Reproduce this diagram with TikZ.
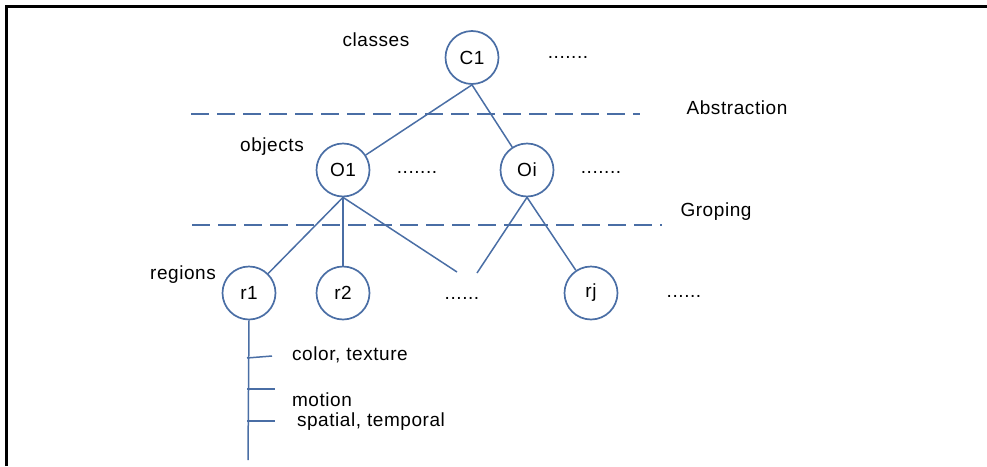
\documentclass[tikz,border=0pt]{standalone}
\usepackage{fontspec}
\setmainfont{Liberation Sans}[LetterSpace=3]
\definecolor{ln}{RGB}{74,110,165}
\begin{document}
\begin{tikzpicture}[x=1pt,y=-1pt,
  circ/.style={circle,draw=ln,line width=1.7pt,minimum size=53pt,inner sep=0pt,font=\fontsize{19}{21}\selectfont},
  lbl/.style={font=\fontsize{19}{21}\selectfont,inner sep=0pt},
  conn/.style={draw=ln,line width=1.5pt},
  dashline/.style={draw=ln,line width=1.5pt,dash pattern=on 18pt off 8pt},
  frame/.style={draw=black,line width=3pt}]
\useasboundingbox (0,0) rectangle (987,466);
% frame
\coordinate (fbl) at (6,466);
\coordinate (ftl) at (6,6.5);
\coordinate (ftr) at (987,6.5);
\draw[frame] (fbl) -- (ftl) -- (ftr);
% dashed separators
\coordinate (d1a) at (191,114);
\coordinate (d1b) at (640,114);
\coordinate (d2a) at (192,225);
\coordinate (d2b) at (662,225);
\draw[dashline] (d1a) -- (d1b);
\draw[dashline] (d2a) -- (d2b);
% nodes
\node[circ] (C1) at (472,57.5) {C1};
\node[circ] (O1) at (343,170) {O1};
\node[circ] (Oi) at (527,170) {Oi};
\node[circ] (r1) at (249,293) {r1};
\node[circ] (r2) at (343,293) {r2};
\node[circ] (rj) at (591,293) {rj};
% labels
\node[lbl] (classes) at (376,40) {classes};
\node[lbl] (cdots) at (568,57) {.......};
\node[lbl] (abs) at (737,108) {Abstraction};
\node[lbl] (objects) at (272,147) {objects};
\node[lbl] (o1dots) at (417,172) {.......};
\node[lbl] (oidots) at (601,172) {.......};
\node[lbl] (grp) at (716,212) {Groping};
\node[lbl] (regions) at (183,275) {regions};
\node[lbl] (mdots) at (462,298) {......};
\node[lbl] (rjdots) at (684,296) {......};
\node[lbl] (ct) at (350,355) {color, texture};
\node[lbl] (mo) at (322,400) {motion};
\node[lbl] (st) at (371,422) {spatial, temporal};
% connectors
\draw[conn] (C1.south) -- (O1);
\draw[conn] (C1.south) -- (Oi);
\coordinate (m1) at (457,272);
\coordinate (m2) at (477,273);
\draw[conn] (O1.south) -- (r1);
\draw[conn] (O1.south) -- (r2.north);
\draw[conn] (O1.south) -- (m1);
\draw[conn] (Oi.south) -- (m2);
\draw[conn] (Oi.south) -- (rj);
% r1 attribute stem
\coordinate (stemend) at (248,460);
\draw[conn] (r1.south) -- (stemend);
\coordinate (t1a) at (247,358);
\coordinate (t1b) at (272,356);
\coordinate (t2a) at (247,389);
\coordinate (t2b) at (275,389);
\coordinate (t3a) at (247,421);
\coordinate (t3b) at (275,421);
\draw[conn] (t1a) -- (t1b);
\draw[conn] (t2a) -- (t2b);
\draw[conn] (t3a) -- (t3b);
\end{tikzpicture}
\end{document}
